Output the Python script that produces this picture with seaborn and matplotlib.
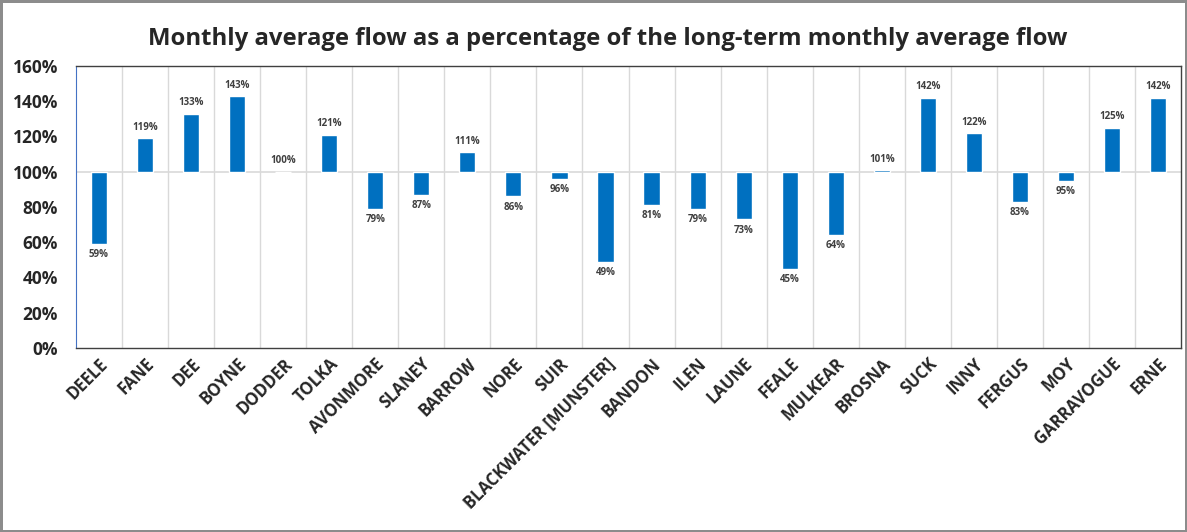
import numpy as np
import pandas as pd
import matplotlib.pyplot as plt
import seaborn as sns
from matplotlib.ticker import FixedLocator

sns.set_style("white")
plt.rcParams['font.family'] = ['Open Sans', 'DejaVu Sans']

# river names and monthly flow as % of long-term monthly average
rivers = ["DEELE", "FANE", "DEE", "BOYNE", "DODDER", "TOLKA", "AVONMORE", "SLANEY",
          "BARROW", "NORE", "SUIR", "BLACKWATER [MUNSTER]", "BANDON", "ILEN", "LAUNE",
          "FEALE", "MULKEAR", "BROSNA", "SUCK", "INNY", "FERGUS", "MOY", "GARRAVOGUE", "ERNE"]
pct = [59, 119, 133, 143, 100, 121, 79, 87, 111, 86, 96, 49, 81, 79, 73,
       45, 64, 101, 142, 122, 83, 95, 125, 142]
baseline = 100

df = pd.DataFrame({"river": rivers, "pct": pct})
df["diff"] = df["pct"] - baseline

fig = plt.figure(figsize=(11.87, 5.32), dpi=100)
fig.patch.set_edgecolor("#8c8c8c")
fig.patch.set_linewidth(2.5)
ax = fig.add_axes([0.064, 0.346, 0.931, 0.53])

# bars hang from the 100% line
sns.barplot(data=df, x="river", y="diff", color="#0070C0", saturation=1,
            width=0.35, bottom=baseline, ax=ax, zorder=3)

ax.axhline(baseline, color="#d9d9d9", lw=1.2, zorder=2)

for i, v in enumerate(pct):
    if v >= baseline:
        ax.text(i, v + 3, f"{v}%", ha="center", va="bottom", fontsize=7,
                fontweight="bold", color="#404040")
    else:
        ax.text(i, v - 3, f"{v}%", ha="center", va="top", fontsize=7,
                fontweight="bold", color="#404040")

ax.set_ylim(0, 160)
ax.set_xlim(-0.5, len(rivers) - 0.5)
ax.set_yticks(range(0, 161, 20))
ax.set_yticklabels([f"{t}%" for t in range(0, 161, 20)], fontsize=12.5, fontweight="bold")
ax.set_xticks(range(len(rivers)))
ax.set_xticklabels(rivers, rotation=45, ha="right", rotation_mode="anchor",
                   fontsize=12, fontweight="bold")
ax.tick_params(axis="x", length=0, pad=5)
ax.tick_params(axis="y", length=0, pad=13)

ax.xaxis.set_minor_locator(FixedLocator(np.arange(0.5, len(rivers) - 0.5, 1)))
ax.grid(which="minor", axis="x", color="#d9d9d9", lw=1, zorder=0)
ax.grid(which="major", visible=False)
ax.set_xlabel("")
ax.set_ylabel("")

for s in ["top", "right", "bottom"]:
    ax.spines[s].set_color("#404040")
    ax.spines[s].set_linewidth(1)
ax.spines["left"].set_color("#4472C4")
ax.spines["left"].set_linewidth(0.8)

fig.text(0.512, 0.926, "Monthly average flow as a percentage of the long-term monthly average flow",
         ha="center", va="center", fontsize=17.2, fontweight="bold")

fig.savefig("out.png", dpi=100, edgecolor=fig.get_edgecolor())
